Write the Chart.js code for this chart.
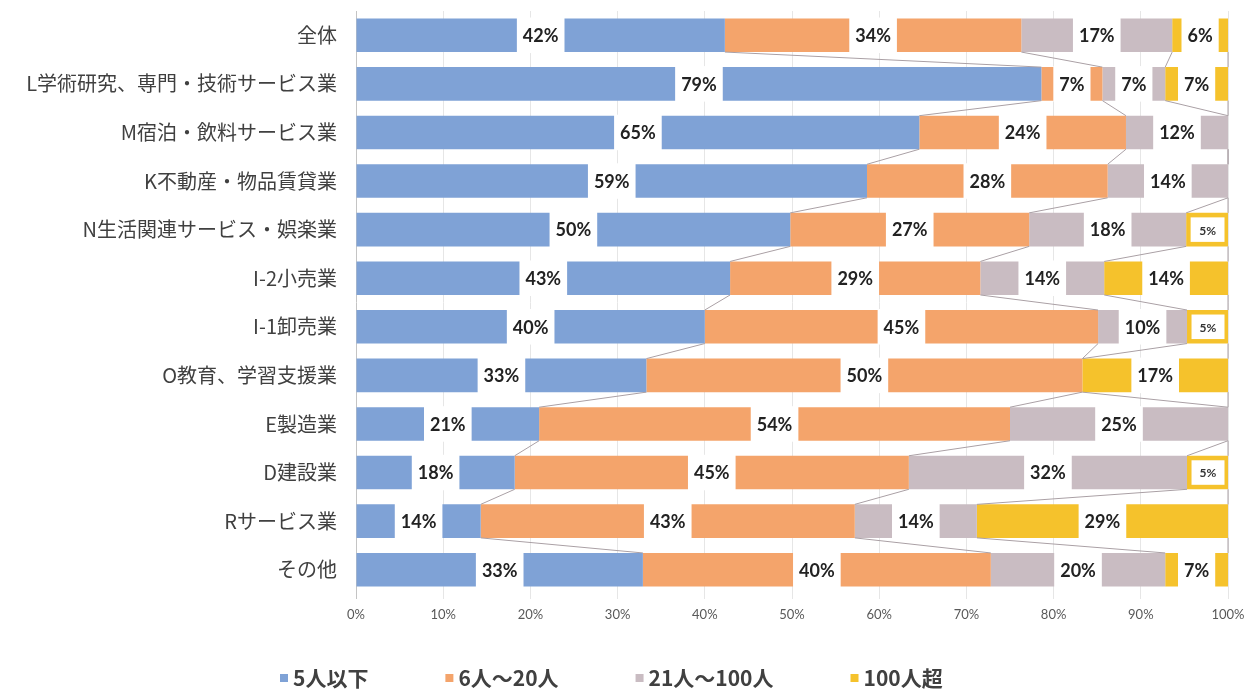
<!DOCTYPE html>
<html lang="ja">
<head>
<meta charset="utf-8">
<title>従業員規模別 構成比</title>
<script src="https://cdn.jsdelivr.net/npm/chart.js@4/dist/chart.umd.min.js"></script>
<style>
  html, body { margin: 0; padding: 0; background: #fff; }
  #wrap { position: relative; width: 1258px; height: 691px; }
</style>
</head>
<body>
<div id="wrap"><canvas id="chart"></canvas></div>
<script>
// 業種（上から順に）
const categories = [
  '全体',
  'L学術研究、専門・技術サービス業',
  'M宿泊・飲料サービス業',
  'K不動産・物品賃貸業',
  'N生活関連サービス・娯楽業',
  'I-2小売業',
  'I-1卸売業',
  'O教育、学習支援業',
  'E製造業',
  'D建設業',
  'Rサービス業',
  'その他'
];

const seriesNames = ['5人以下', '6人～20人', '21人～100人', '100人超'];

// 構成比（%） 図から読み取り
const under5 = [42.3, 78.6, 64.6, 58.6, 49.8, 42.9, 40.0, 33.3, 21.0, 18.2, 14.3, 32.9];
const from6to20 = [34.0, 7.0, 23.7, 27.6, 27.4, 28.7, 45.1, 50.0, 54.0, 45.2, 42.9, 39.9];
const from21to100 = [17.3, 7.2, 11.7, 13.8, 18.0, 14.2, 10.2, 0, 25.0, 31.9, 14.0, 20.0];
const over100 = [6.4, 7.2, 0, 0, 4.8, 14.2, 4.7, 16.7, 0, 4.7, 28.8, 7.2];

const xTicks = [0, 10, 20, 30, 40, 50, 60, 70, 80, 90, 100];

const COLORS = {
  blue: '#7fa2d6',
  orange: '#f4a46b',
  gray: '#c9bcc2',
  yellow: '#f5c22c',
  seriesLine: '#aaa0a5',
  grid: '#e6e6e6',
  axis: '#c4c4c4',
  text: '#404040',
  tick: '#595959'
};

const seriesColors = [COLORS.blue, COLORS.orange, COLORS.gray, COLORS.yellow];
const seriesData = [under5, from6to20, from21to100, over100];

const LABEL_FONT = 'bold 18px Lato, "Open Sans", sans-serif';
const SMALL_FONT = 'bold 12px Lato, "Open Sans", sans-serif';
const LEGEND_FONT = 'bold 21px "Noto Sans CJK JP", sans-serif';

// 系列線 + データラベル
const segmentPlugin = {
  id: 'segmentPlugin',
  afterDatasetsDraw(chart) {
    const ctx = chart.ctx;
    const metas = chart.data.datasets.map((_, i) => chart.getDatasetMeta(i));

    // 系列線（各系列の右端を隣の棒とつなぐ）
    ctx.save();
    ctx.strokeStyle = COLORS.seriesLine;
    ctx.lineWidth = 1;
    metas.forEach(meta => {
      for (let i = 0; i < meta.data.length - 1; i++) {
        const a = meta.data[i].getProps(['x', 'y', 'height'], true);
        const b = meta.data[i + 1].getProps(['x', 'y', 'height'], true);
        ctx.beginPath();
        ctx.moveTo(a.x, a.y + a.height / 2);
        ctx.lineTo(b.x, b.y - b.height / 2);
        ctx.stroke();
      }
    });
    ctx.restore();

    // ラベル
    ctx.save();
    ctx.textAlign = 'center';
    ctx.textBaseline = 'middle';
    chart.data.datasets.forEach((ds, di) => {
      metas[di].data.forEach((bar, i) => {
        const v = ds.data[i];
        if (!v) return;
        const p = bar.getProps(['x', 'y', 'base', 'height'], true);
        const cx = (p.x + p.base) / 2;
        const text = Math.round(v) + '%';
        if (v < 5.5) {
          const x0 = Math.min(p.x, p.base) + 3;
          const w = Math.abs(p.x - p.base) - 5;
          const h = p.height - 6;
          ctx.fillStyle = '#fff';
          ctx.fillRect(x0, p.y - h / 2, w, h);
          ctx.strokeStyle = ds.backgroundColor;
          ctx.lineWidth = 3;
          ctx.strokeRect(x0, p.y - h / 2, w, h);
          ctx.font = SMALL_FONT;
          ctx.fillStyle = '#333';
          ctx.fillText(text, x0 + w / 2, p.y + 1);
        } else {
          ctx.font = LABEL_FONT;
          const tw = ctx.measureText(text).width + 12;
          ctx.fillStyle = '#fff';
          ctx.fillRect(cx - tw / 2, p.y - p.height / 2 - 1, tw, p.height + 2);
          ctx.fillStyle = '#222';
          ctx.fillText(text, cx, p.y + 1);
        }
      });
    });
    ctx.restore();
  },
  afterDraw(chart) {
    // 凡例（下部）
    const ctx = chart.ctx;
    ctx.save();
    ctx.font = LEGEND_FONT;
    ctx.textBaseline = 'middle';
    let x = 280;
    const y = chart.height - 13;
    seriesNames.forEach((name, i) => {
      ctx.fillStyle = seriesColors[i];
      ctx.fillRect(x, y - 4, 8, 8);
      ctx.fillStyle = COLORS.text;
      ctx.fillText(name, x + 13, y);
      x += 13 + ctx.measureText(name).width + 77;
    });
    ctx.restore();
  }
};

const datasets = seriesNames.map((name, i) => ({
  label: name,
  data: seriesData[i],
  backgroundColor: seriesColors[i],
  borderWidth: 0,
  barPercentage: 0.69,
  categoryPercentage: 1.0
}));

new Chart(document.getElementById('chart'), {
  type: 'bar',
  data: { labels: categories, datasets },
  options: {
    indexAxis: 'y',
    responsive: true,
    maintainAspectRatio: false,
    animation: false,
    layout: { padding: { top: 11, right: 30, left: 0, bottom: 61 } },
    plugins: {
      legend: { display: false },
      tooltip: { enabled: false }
    },
    scales: {
      x: {
        stacked: true,
        min: 0,
        max: 100,
        afterBuildTicks(scale) {
          scale.ticks = xTicks.map(v => ({ value: v }));
        },
        afterFit(scale) { scale.height = 36; },
        ticks: {
          color: COLORS.tick,
          font: { family: 'Lato, "Open Sans", sans-serif', size: 13 },
          padding: 8,
          callback: v => v + '%'
        },
        grid: {
          color: ctx => (ctx.tick && ctx.tick.value === 0) ? COLORS.axis : COLORS.grid,
          tickLength: 5
        },
        border: { display: false }
      },
      y: {
        stacked: true,
        afterFit(scale) {
          scale.width = 356;
          scale.paddingTop = 0;
          scale.paddingBottom = 0;
        },
        ticks: {
          color: COLORS.text,
          font: { family: '"Noto Sans CJK JP", sans-serif', size: 20 },
          padding: 19
        },
        grid: { display: false, drawTicks: false },
        border: { display: false }
      }
    }
  },
  plugins: [segmentPlugin]
});
</script>
</body>
</html>
